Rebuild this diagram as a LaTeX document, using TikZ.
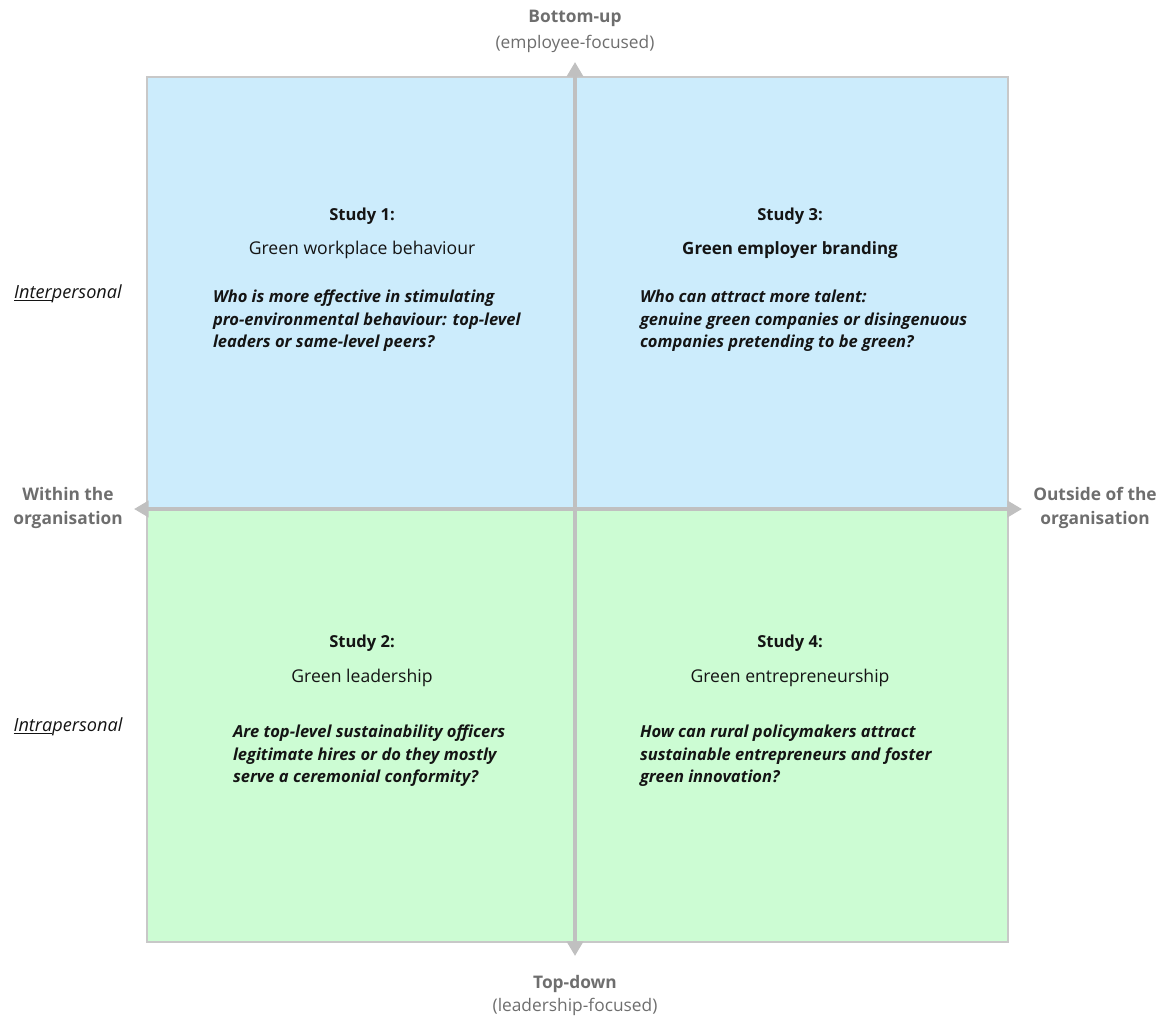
\documentclass[tikz,border=0pt]{standalone}
\usepackage{fontspec}
\setmainfont{Open Sans}
\usetikzlibrary{arrows.meta}
\definecolor{quadblue}{HTML}{CCECFC}
\definecolor{quadgreen}{HTML}{CCFCD3}
\definecolor{framegray}{HTML}{C8C8C8}
\definecolor{axisgray}{HTML}{C0C0C0}
\definecolor{labelgray}{HTML}{6E6E6E}
\definecolor{textdark}{HTML}{141414}
\begin{document}
\begin{tikzpicture}[x=0.75pt,y=-0.75pt,
  every node/.style={inner sep=0pt,outer sep=0pt},
  axislabel/.style={font=\fontsize{13pt}{18pt}\selectfont,text=labelgray,align=center},
  sidelabel/.style={font=\fontsize{13.6pt}{18pt}\selectfont\itshape,text=textdark},
  studytitle/.style={font=\fontsize{12.4pt}{15pt}\selectfont\bfseries,text=textdark,anchor=base},
  studytopic/.style={font=\fontsize{13.2pt}{15pt}\selectfont,text=textdark,anchor=base},
  question/.style={font=\fontsize{12.4pt}{16.9pt}\selectfont\bfseries\itshape,text=textdark,align=left,anchor=north west},
  axis/.style={draw=axisgray,line width=3pt,{Triangle[length=11pt,width=12pt]}-{Triangle[length=11pt,width=12pt]}}
]
\useasboundingbox (0,0) rectangle (1167,1016);

% quadrant fills and frame
\fill[quadblue] (147,77) rectangle (1008,509);
\fill[quadgreen] (147,509) rectangle (1008,942);
\draw[framegray,line width=1.5pt] (147,77) rectangle (1008,942);

% axis end points
\coordinate (top) at (575,62);
\coordinate (bottom) at (575,956);
\coordinate (left) at (134,509);
\coordinate (right) at (1022,509);
\draw[axis] (bottom) -- (top);
\draw[axis] (left) -- (right);

% axis labels
\node[axislabel,anchor=base] (bu) at (575,23) {\bfseries Bottom-up};
\node[axislabel,anchor=base] (buf) at (575,49) {(employee-focused)};
\node[axislabel,anchor=base] (td) at (575,988) {\bfseries Top-down};
\node[axislabel,anchor=base] (tdf) at (575,1011) {(leadership-focused)};
\node[axislabel,anchor=center,font=\fontsize{13pt}{18.5pt}\selectfont\bfseries] (within) at (68,508) {Within the\\organisation};
\node[axislabel,anchor=center,font=\fontsize{13pt}{18.5pt}\selectfont\bfseries] (outside) at (1095,508) {Outside of the\\organisation};

% level labels
\node[sidelabel,anchor=base] (inter) at (68,298) {\underline{Inter}personal};
\node[sidelabel,anchor=base] (intra) at (68,731) {\underline{Intra}personal};

% Study 1
\node[studytitle] (s1) at (362,221) {Study 1:};
\node[studytopic] (t1) at (362,255) {Green workplace behaviour};
\node[question] (q1) at (213,290) {Who is more effective in stimulating\\pro-environmental behaviour: top-level\\leaders or same-level peers?};

% Study 3
\node[studytitle] (s3) at (790,221) {Study 3:};
\node[studytitle,font=\fontsize{12.7pt}{15pt}\selectfont\bfseries] (t3) at (790,255) {Green employer branding};
\node[question] (q3) at (640,290) {Who can attract more talent:\\genuine green companies or disingenuous\\companies pretending to be green?};

% Study 2
\node[studytitle] (s2) at (362,647) {Study 2:};
\node[studytopic] (t2) at (362,682) {Green leadership};
\node[question] (q2) at (233,725) {Are top-level sustainability officers\\legitimate hires or do they mostly\\serve a ceremonial conformity?};

% Study 4
\node[studytitle] (s4) at (790,647) {Study 4:};
\node[studytopic] (t4) at (790,682) {Green entrepreneurship};
\node[question] (q4) at (640,725) {How can rural policymakers attract\\sustainable entrepreneurs and foster\\green innovation?};
\end{tikzpicture}
\end{document}
